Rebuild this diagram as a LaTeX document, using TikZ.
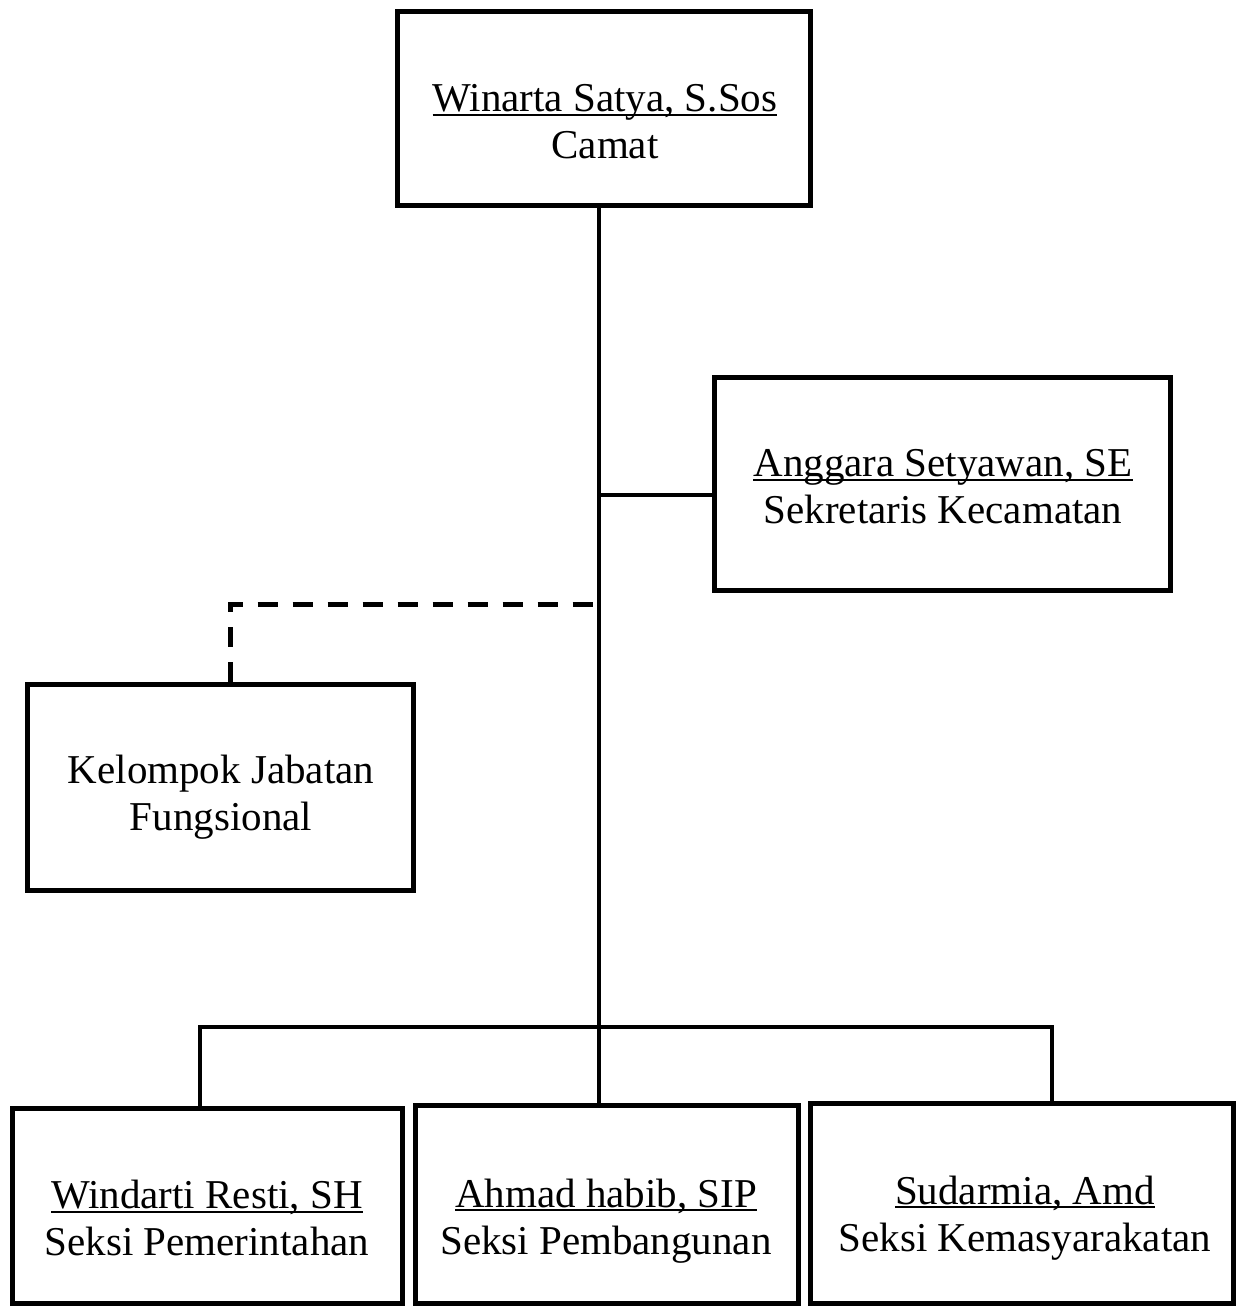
\documentclass[tikz,border=0pt]{standalone}
\usepackage{fontspec}
\setmainfont{Liberation Serif}
\newcommand{\nmline}[1]{{\setbox0\hbox{#1}\rlap{\rule[-4pt]{\wd0}{2pt}}\box0}}
\begin{document}
\begin{tikzpicture}[x=1pt,y=-1pt,
  box/.style={draw=black,line width=5pt,minimum width=#1},
  txt/.style={align=center,font=\fontsize{41}{47}\selectfont,inner sep=0pt},
  conn/.style={line width=4.8pt},
  dconn/.style={line width=5pt,dash pattern=on 20pt off 15pt}]
\useasboundingbox (0,0) rectangle (1235,1306);
\node[box=413pt,minimum height=193pt] (camat) at (603.5,108.5) {};
\node[box=456pt,minimum height=213pt] (sek) at (942,483.5) {};
\node[box=386pt,minimum height=206pt] (kel) at (220,787) {};
\node[box=390pt,minimum height=195pt] (win) at (207,1205.5) {};
\node[box=383pt,minimum height=198pt] (ahm) at (606.5,1204) {};
\node[box=423pt,minimum height=200pt] (sud) at (1021.5,1203) {};

\node[txt] (tcamat) at (605,122) {\nmline{Winarta Satya, S.Sos}\\Camat};
\node[txt] (tsek) at (943,487) {\nmline{Anggara Setyawan, SE}\\Sekretaris Kecamatan};
\node[txt] (tkel) at (221,797) {Kelompok Jabatan\\Fungsional};
\node[txt] (twin) at (207,1218) {\nmline{Windarti Resti, SH}\\Seksi Pemerintahan};
\node[txt] (tahm) at (606,1221) {\nmline{Ahmad habib, SIP}\\Seksi Pembangunan};
\node[txt] (tsud) at (1025,1218) {\nmline{Sudarmia, Amd}\\Seksi Kemasyarakatan};

\coordinate (tx) at (599,0);
\coordinate (j1) at (599,495);
\coordinate (j2) at (599,604);
\coordinate (d1) at (230,604);
\coordinate (b1) at (200,1027);
\coordinate (b2) at (1052,1027);

\draw[conn] (camat.south -| tx) -- (ahm.north -| tx);
\draw[conn] (j1) -- (j1 -| sek.west);
\draw[dconn] (d1 |- kel.north) -- (d1) -- (j2);
\draw[conn] (win.north -| b1) -- (b1) -- (b2) -- (b2 |- sud.north);
\end{tikzpicture}
\end{document}
